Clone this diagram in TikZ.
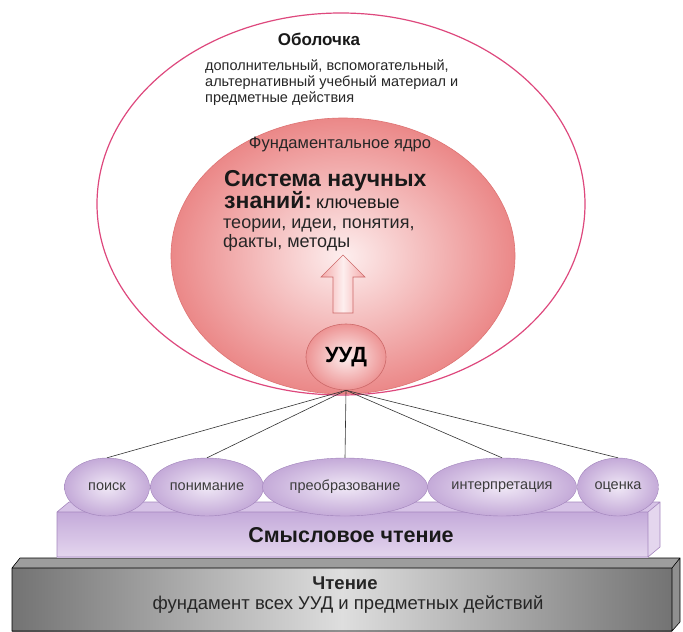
\documentclass[tikz,border=0pt]{standalone}
\usepackage{fontspec}
\setmainfont{Liberation Sans}
\usetikzlibrary{shapes.geometric,positioning}
\definecolor{shellline}{RGB}{222,72,125}
\definecolor{corein}{RGB}{253,238,238}
\definecolor{coreout}{RGB}{235,136,136}
\definecolor{coreline}{RGB}{222,115,115}
\definecolor{uudline}{RGB}{205,105,105}
\definecolor{arrowfill}{RGB}{244,170,170}
\definecolor{ovalin}{RGB}{240,232,246}
\definecolor{ovalout}{RGB}{196,170,216}
\definecolor{ovalline}{RGB}{160,130,186}
\definecolor{ovaltext}{RGB}{60,60,60}
\definecolor{slabtop}{RGB}{214,194,230}
\definecolor{slabfront}{RGB}{196,170,218}
\definecolor{slablow}{RGB}{228,214,238}
\definecolor{slabline}{RGB}{165,135,190}
\definecolor{basedark}{RGB}{115,115,115}
\definecolor{baselight}{RGB}{222,222,222}
\definecolor{baseline}{RGB}{85,85,85}
\tikzset{oval/.style={ellipse,draw=ovalline,inner color=ovalin,outer color=ovalout,minimum height=58pt,inner sep=0pt,font=\fontsize{14.5}{16}\selectfont,text=ovaltext}}
\tikzset{fanline/.style={black!80,line width=0.6pt}}
\tikzset{coretext/.style={inner sep=0pt,anchor=base west,text=black!85,font=\fontsize{18}{20}\selectfont}}
\tikzset{corehead/.style={inner sep=0pt,anchor=base west,text=black!90,font=\fontsize{23}{25}\selectfont\bfseries}}

\begin{document}
\begin{tikzpicture}[x=1pt,y=-1pt]
	\useasboundingbox (0,0) rectangle (683,632);

	% base slab
	\fill[basedark!70] (12,568) -- (20,558) -- (680,558) -- (672,568) -- cycle;
	\shade[left color=basedark,right color=basedark,middle color=baselight] (12,568) rectangle (672,631);
	\fill[basedark!80] (672,568) -- (680,558) -- (680,622) -- (672,631) -- cycle;
	\draw[baseline,line width=0.6pt] (12,631) -- (12,568) -- (20,558) -- (680,558) -- (680,622) -- (672,631) -- cycle (12,568) -- (672,568) -- (672,631) (672,568) -- (680,558);
	\node[inner sep=0pt,font=\fontsize{18.5}{20}\selectfont\bfseries,text=black!85] (reading) at (345,583) {Чтение};
	\node[inner sep=0pt,font=\fontsize{18.5}{20}\selectfont,text=black!85] (basis) at (348,605) {фундамент всех УУД и предметных действий};

	% meaning slab
	\fill[slabtop] (57,512) -- (69,502) -- (660,502) -- (648,512) -- cycle;
	\shade[top color=slabfront,bottom color=slablow] (57,512) rectangle (648,557);
	\fill[slablow] (648,512) -- (660,502) -- (660,547) -- (648,557) -- cycle;
	\draw[slabline,line width=0.6pt] (57,557) -- (57,512) -- (69,502) -- (660,502) -- (660,547) -- (648,557) -- cycle (57,512) -- (648,512) -- (648,557) (648,512) -- (660,502);
	\node[inner sep=0pt,font=\fontsize{21.5}{24}\selectfont\bfseries,text=black!90] (meaning) at (351,535) {Смысловое чтение};

	% shell and core
	\node[ellipse,draw=shellline,line width=1.2pt,fill=white,minimum width=488pt,minimum height=382pt] (shell) at (341,204) {};
	\node[inner sep=0pt,font=\fontsize{17}{19}\selectfont\bfseries,text=black!90] (shelltitle) at (319,39) {Оболочка};
	\node[inner sep=0pt,anchor=north west,align=left,text=black!85,font=\fontsize{14.5}{16}\selectfont] (shelltext) at (205,60) {дополнительный, вспомогательный,\\альтернативный учебный материал и\\предметные действия};

	\node[ellipse,draw=coreline,line width=0.6pt,inner color=corein,outer color=coreout,minimum width=344pt,minimum height=276pt] (core) at (343,256) {};
	\node[inner sep=0pt,text=black!85,font=\fontsize{16.5}{18}\selectfont] (coretitle) at (340,144) {Фундаментальное ядро};
	\node[corehead] (sys) at (224,186) {Система научных};
	\node[corehead] (know) at (224,208) {знаний:\hspace{4pt}{\fontsize{18}{20}\selectfont\mdseries ключевые}};
	\node[coretext] (theo) at (223,228) {теории, идеи, понятия,};
	\node[coretext] (facts) at (223,247) {факты, методы};

	\shade[left color=arrowfill,right color=arrowfill,middle color=corein] (333,313) -- (333,277) -- (321,277) -- (343,255) -- (365,277) -- (353,277) -- (353,313) -- cycle;
	\draw[uudline,line width=0.6pt] (333,313) -- (333,277) -- (321,277) -- (343,255) -- (365,277) -- (353,277) -- (353,313) -- cycle;

	\node[ellipse,draw=uudline,line width=0.6pt,inner color=corein,outer color=coreout!90,minimum width=80pt,minimum height=66pt,inner sep=0pt,font=\fontsize{22}{24}\selectfont\bfseries] (uud) at (346,357) {УУД};

	% actions
	\node[oval,minimum width=85pt] (search) at (107,487) {поиск};
	\node[oval,minimum width=113pt] (grasp) at (207,487) {понимание};
	\node[oval,minimum width=165pt] (transform) at (345,487) {преобразование};
	\node[oval,minimum width=149pt] (interp) at (502,487) {интерпретация};
	\node[oval,minimum width=81pt] (assess) at (618,487) {оценка};

	\foreach \act in {search,grasp,transform,interp,assess}
		\draw[fanline] (uud.south) -- (\act.north);
\end{tikzpicture}
\end{document}
